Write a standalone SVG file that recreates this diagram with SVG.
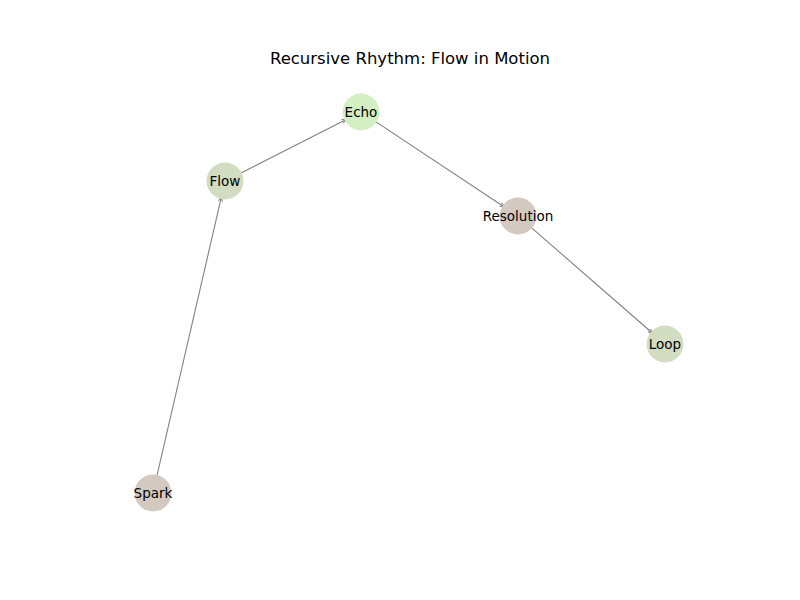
<svg xmlns="http://www.w3.org/2000/svg" width="800" height="600" viewBox="0 0 800 600">
<style>
.edge{stroke:#808080;stroke-width:1.1;fill:none}
.node circle{stroke:none}
.lbl{font-family:"DejaVu Sans",sans-serif;font-size:13.5px;fill:#000;text-anchor:middle;dominant-baseline:central}
.title{font-family:"DejaVu Sans",sans-serif;font-size:16.5px;fill:#000;text-anchor:middle}
</style>
<defs>
<marker id="arr" markerWidth="8" markerHeight="8" refX="5" refY="3" orient="auto" markerUnits="userSpaceOnUse">
<path d="M0,1 L5,3 L0,5" fill="none" stroke="#808080" stroke-width="1"/>
</marker>
</defs>
<rect width="800" height="600" fill="#fff"/>
<text class="title" x="410" y="64">Recursive Rhythm: Flow in Motion</text>
<g id="edges">
<line class="edge" x1="241.1" y1="172.9" x2="346.7" y2="119.2" marker-end="url(#arr)"/>
<line class="edge" x1="376.0" y1="121.9" x2="504.7" y2="207.2" marker-end="url(#arr)"/>
<line class="edge" x1="531.6" y1="227.8" x2="652.9" y2="333.5" marker-end="url(#arr)"/>
<line class="edge" x1="157.0" y1="475.5" x2="221.5" y2="196.5" marker-end="url(#arr)"/>
</g>
<g id="node-echo" class="node"><circle cx="361" cy="112" r="18.5" fill="#d3f0c2"/><text class="lbl" x="361" y="112">Echo</text></g>
<g id="node-flow" class="node"><circle cx="225" cy="181" r="18.5" fill="#d1dcc0"/><text class="lbl" x="225" y="181">Flow</text></g>
<g id="node-resolution" class="node"><circle cx="518" cy="216" r="18.5" fill="#d4c9c1"/><text class="lbl" x="518" y="216">Resolution</text></g>
<g id="node-loop" class="node"><circle cx="665" cy="344" r="18.5" fill="#d1dcc0"/><text class="lbl" x="665" y="344">Loop</text></g>
<g id="node-spark" class="node"><circle cx="153" cy="493" r="18.5" fill="#d4c9c1"/><text class="lbl" x="153" y="493">Spark</text></g>
</svg>
